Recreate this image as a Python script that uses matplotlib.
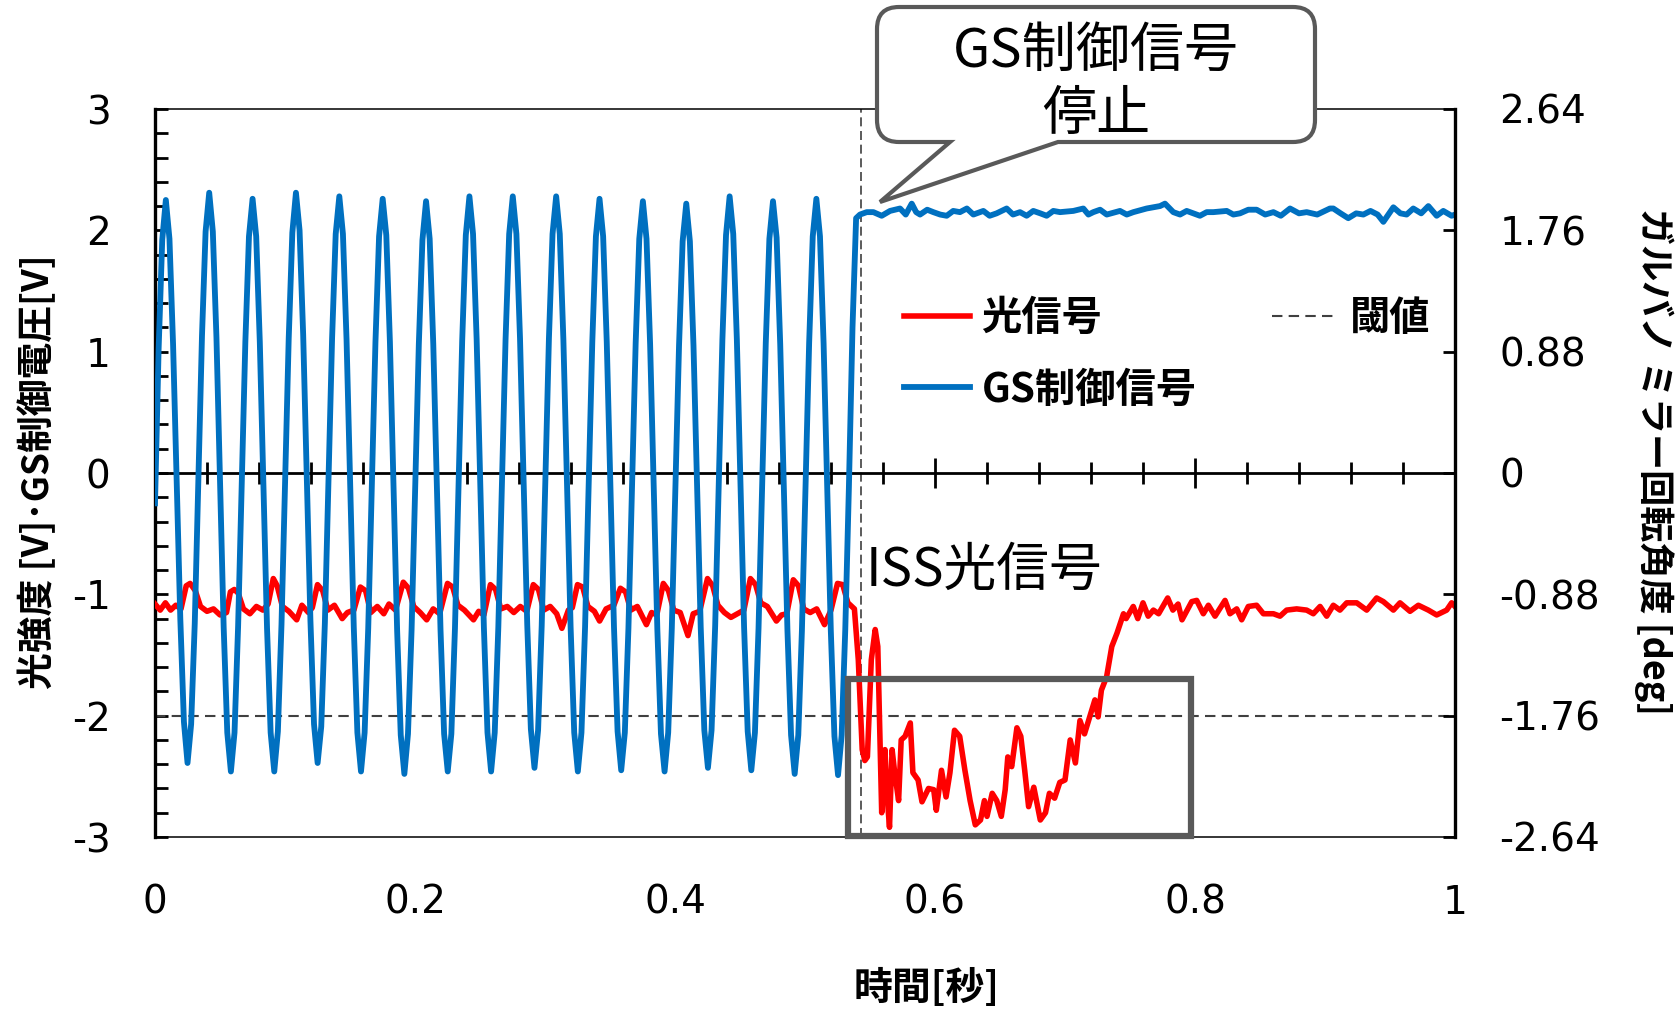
import matplotlib
matplotlib.use('Agg')
import matplotlib.pyplot as plt
import numpy as np
from matplotlib.path import Path
from matplotlib.patches import PathPatch, Rectangle
from matplotlib.ticker import MultipleLocator, FuncFormatter
from matplotlib.transforms import Affine2D

W, H = 1681, 1013

# GS control signal while driven: one sample every blue_dt seconds (12 per cycle)
blue_dt = 0.00278
blue_osc = [
    -0.25, 1.02, 1.92, 2.25, 1.93, 1.06, -0.07, -1.20, -2.05, -2.39, -2.07, -1.24,
    -0.05, 1.13, 1.99, 2.31, 1.99, 1.12, -0.08, -1.27, -2.14, -2.46, -2.14, -1.26,
    -0.10, 1.08, 1.95, 2.26, 1.95, 1.08, -0.10, -1.28, -2.14, -2.46, -2.13, -1.25,
    -0.08, 1.11, 1.98, 2.31, 2.00, 1.14, -0.04, -1.21, -2.07, -2.39, -2.09, -1.24,
    -0.06, 1.11, 1.97, 2.28, 1.97, 1.10, -0.09, -1.27, -2.14, -2.46, -2.14, -1.28,
    -0.10, 1.08, 1.95, 2.26, 1.96, 1.08, -0.11, -1.30, -2.16, -2.48, -2.15, -1.29,
    -0.12, 1.06, 1.92, 2.24, 1.93, 1.06, -0.11, -1.29, -2.15, -2.46, -2.15, -1.28,
    -0.11, 1.09, 1.96, 2.28, 1.97, 1.10, -0.09, -1.27, -2.14, -2.46, -2.14, -1.27,
    -0.09, 1.10, 1.97, 2.28, 1.97, 1.11, -0.07, -1.25, -2.11, -2.43, -2.12, -1.26,
    -0.07, 1.11, 1.97, 2.28, 1.97, 1.10, -0.09, -1.27, -2.14, -2.46, -2.14, -1.27,
    -0.10, 1.08, 1.95, 2.26, 1.95, 1.08, -0.09, -1.27, -2.13, -2.45, -2.14, -1.28,
    -0.10, 1.07, 1.93, 2.24, 1.93, 1.06, -0.11, -1.29, -2.15, -2.46, -2.14, -1.28,
    -0.12, 1.05, 1.91, 2.22, 1.91, 1.05, -0.10, -1.27, -2.12, -2.43, -2.12, -1.26,
    -0.08, 1.10, 1.96, 2.28, 1.97, 1.10, -0.08, -1.27, -2.13, -2.45, -2.14, -1.28,
    -0.10, 1.07, 1.93, 2.24, 1.94, 1.06, -0.12, -1.30, -2.16, -2.48, -2.16, -1.30,
    -0.11, 1.07, 1.95, 2.26, 1.95, 1.07, -0.11, -1.30, -2.17, -2.49, -2.16, -1.29,
    -0.12, 1.20, 2.10,
]

# GS control signal after it is stopped (held level)
blue_hold_t = [
    0.5423, 0.5475, 0.5526, 0.559, 0.5654, 0.5731, 0.5775, 0.5821, 0.5855, 0.5885,
    0.594, 0.5987, 0.604, 0.609, 0.614, 0.6192, 0.6245, 0.6295, 0.6372, 0.642,
    0.6474, 0.6551, 0.660, 0.6654, 0.6705, 0.6756, 0.681, 0.6859, 0.691, 0.6962,
    0.7064, 0.7141, 0.718, 0.7218, 0.727, 0.7321, 0.7423, 0.7475, 0.7526, 0.7628,
    0.7731, 0.7769, 0.7833, 0.7885, 0.7936, 0.8038, 0.809, 0.8141, 0.8244, 0.8295,
    0.8346, 0.841, 0.8474, 0.854, 0.8603, 0.866, 0.8731, 0.880, 0.8859, 0.894,
    0.9038, 0.9064, 0.912, 0.9179, 0.924, 0.9295, 0.935, 0.9405, 0.9449, 0.9526,
    0.958, 0.9628, 0.9679, 0.974, 0.9795, 0.9859, 0.991, 0.9974, 1.0,
]
blue_hold_v = [
    2.13, 2.15, 2.15, 2.12, 2.16, 2.18, 2.13, 2.22, 2.15, 2.13,
    2.17, 2.15, 2.13, 2.12, 2.16, 2.15, 2.18, 2.13, 2.16, 2.12,
    2.14, 2.18, 2.13, 2.15, 2.12, 2.16, 2.14, 2.12, 2.16, 2.15,
    2.16, 2.18, 2.13, 2.15, 2.17, 2.13, 2.16, 2.13, 2.15, 2.18,
    2.20, 2.22, 2.15, 2.13, 2.16, 2.12, 2.15, 2.15, 2.16, 2.13,
    2.14, 2.17, 2.17, 2.13, 2.15, 2.12, 2.18, 2.14, 2.15, 2.13,
    2.18, 2.18, 2.14, 2.10, 2.14, 2.13, 2.16, 2.13, 2.07, 2.19,
    2.14, 2.13, 2.18, 2.14, 2.20, 2.12, 2.16, 2.12, 2.13,
]

# ISS optical signal
red_t = [
    0.000, 0.004, 0.008, 0.012, 0.016, 0.020, 0.024, 0.027, 0.031, 0.035,
    0.040, 0.045, 0.050, 0.055, 0.058, 0.061, 0.064, 0.068, 0.073, 0.078,
    0.083, 0.087, 0.091, 0.094, 0.098, 0.103, 0.109, 0.113, 0.118, 0.121,
    0.125, 0.129, 0.133, 0.138, 0.144, 0.148, 0.153, 0.158, 0.162, 0.166,
    0.171, 0.176, 0.180, 0.185, 0.191, 0.195, 0.199, 0.204, 0.209, 0.214,
    0.219, 0.225, 0.229, 0.233, 0.238, 0.245, 0.249, 0.253, 0.258, 0.262,
    0.266, 0.271, 0.276, 0.281, 0.286, 0.291, 0.295, 0.299, 0.304, 0.309,
    0.313, 0.318, 0.321, 0.325, 0.329, 0.333, 0.338, 0.342, 0.347, 0.353,
    0.358, 0.362, 0.366, 0.371, 0.378, 0.382, 0.386, 0.391, 0.395, 0.399,
    0.404, 0.410, 0.414, 0.419, 0.425, 0.429, 0.433, 0.438, 0.443, 0.448,
    0.453, 0.458, 0.462, 0.466, 0.471, 0.478, 0.482, 0.486, 0.491, 0.495,
    0.499, 0.504, 0.509, 0.515, 0.520, 0.525, 0.529, 0.533, 0.538,
    0.541, 0.544, 0.546, 0.548, 0.551, 0.554, 0.556, 0.559, 0.5615, 0.563,
    0.565, 0.567, 0.569, 0.572, 0.574, 0.577, 0.581, 0.583, 0.587, 0.590,
    0.595, 0.599, 0.601, 0.605, 0.6085, 0.6115, 0.615, 0.619, 0.623, 0.627,
    0.631, 0.635, 0.638, 0.640, 0.644, 0.6475, 0.651, 0.654, 0.656, 0.659,
    0.663, 0.666, 0.669, 0.672, 0.676, 0.679, 0.681, 0.685, 0.688, 0.692,
    0.696, 0.700, 0.704, 0.708, 0.7115, 0.715, 0.719, 0.723, 0.7255, 0.728,
    0.732, 0.736, 0.740, 0.745, 0.747, 0.7525, 0.756, 0.760, 0.764, 0.768,
    0.772, 0.779, 0.783, 0.787, 0.790, 0.7975,
    0.8013, 0.8064, 0.8103, 0.8154, 0.8231, 0.8269, 0.8321, 0.8359, 0.841, 0.8474,
    0.8526, 0.8603, 0.8654, 0.8705, 0.8782, 0.8859, 0.891, 0.8962, 0.9013, 0.9064,
    0.9115, 0.9167, 0.9244, 0.9321, 0.9397, 0.9449, 0.9526, 0.9577, 0.9654, 0.9718,
    0.9795, 0.9859, 0.9936, 0.9974, 1.0,
]
red_v = [
    -1.08, -1.13, -1.07, -1.13, -1.09, -1.12, -0.93, -0.91, -0.97, -1.10,
    -1.14, -1.12, -1.17, -1.15, -0.98, -0.96, -0.99, -1.12, -1.16, -1.10,
    -1.13, -1.08, -0.87, -0.93, -1.10, -1.14, -1.21, -1.09, -1.15, -1.11,
    -0.92, -0.97, -1.13, -1.09, -1.20, -1.15, -1.13, -0.94, -0.97, -1.15,
    -1.10, -1.16, -1.08, -1.13, -0.90, -0.95, -1.10, -1.15, -1.21, -1.12,
    -1.16, -0.91, -0.94, -1.09, -1.13, -1.21, -1.14, -1.17, -0.92, -0.96,
    -1.12, -1.10, -1.15, -1.10, -1.14, -0.92, -0.96, -1.13, -1.10, -1.16,
    -1.28, -1.13, -1.11, -0.92, -0.94, -1.10, -1.14, -1.22, -1.12, -1.09,
    -0.95, -0.98, -1.13, -1.10, -1.25, -1.15, -1.17, -0.91, -0.97, -1.13,
    -1.15, -1.34, -1.16, -1.14, -0.87, -0.93, -1.09, -1.15, -1.19, -1.16,
    -1.13, -0.87, -0.92, -1.07, -1.10, -1.22, -1.17, -1.16, -0.88, -0.93,
    -1.12, -1.15, -1.12, -1.25, -1.13, -0.91, -0.92, -1.07, -1.12,
    -1.54, -2.28, -2.37, -2.34, -1.54, -1.29, -1.43, -2.80, -2.28, -2.64,
    -2.92, -2.28, -2.47, -2.70, -2.20, -2.17, -2.06, -2.47, -2.53, -2.71,
    -2.60, -2.61, -2.78, -2.45, -2.67, -2.47, -2.12, -2.17, -2.45, -2.70,
    -2.90, -2.86, -2.70, -2.83, -2.64, -2.70, -2.83, -2.61, -2.34, -2.42,
    -2.10, -2.17, -2.45, -2.75, -2.59, -2.75, -2.86, -2.80, -2.64, -2.68,
    -2.55, -2.53, -2.20, -2.39, -2.04, -2.15, -2.01, -1.87, -2.01, -1.79,
    -1.68, -1.43, -1.32, -1.16, -1.20, -1.10, -1.20, -1.07, -1.18, -1.13,
    -1.16, -1.03, -1.13, -1.08, -1.21, -1.06,
    -1.05, -1.16, -1.09, -1.18, -1.05, -1.16, -1.12, -1.21, -1.10, -1.09,
    -1.16, -1.16, -1.18, -1.13, -1.12, -1.13, -1.16, -1.10, -1.18, -1.09,
    -1.13, -1.07, -1.07, -1.13, -1.03, -1.06, -1.13, -1.07, -1.14, -1.09,
    -1.13, -1.17, -1.13, -1.07, -1.10,
]

threshold = -2.0
stop_time = 0.543
deg_per_volt = 0.88
left_ticks = [-3, -2, -1, 0, 1, 2, 3]

plt.rcParams['font.family'] = ['DejaVu Sans', 'Noto Sans CJK JP']
plt.rcParams['axes.unicode_minus'] = False
JP = ['Noto Sans CJK JP', 'DejaVu Sans']

blue_t = np.concatenate([np.arange(len(blue_osc)) * blue_dt, blue_hold_t])
blue_v = np.concatenate([blue_osc, blue_hold_v])

fig = plt.figure(figsize=(W / 100, H / 100), dpi=100)
ax = fig.add_axes([155 / W, 1 - 837 / H, 1300 / W, 728 / H])
# pixel coordinates, origin at the top-left of the figure
pix = Affine2D().scale(1 / W, -1 / H).translate(0, 1) + fig.transFigure

ax.plot(red_t, red_v, color='#FF0000', lw=4, label='光信号', zorder=3)
ax.plot(blue_t, blue_v, color='#0070C0', lw=4.2, label='GS制御信号', zorder=4)
ax.axvline(stop_time, color='#404040', lw=1.2, dashes=(5.4, 2.8), zorder=2)
ax.axhline(threshold, color='#404040', lw=1.5, dashes=(5, 3), label='閾値', zorder=2)

ax.set_xlim(0, 1)
ax.set_ylim(-3, 3)

# x axis drawn through zero, its labels kept under the plot
ax.spines['top'].set_position(('data', 0))
ax.spines['top'].set_linewidth(2)
ax.spines['bottom'].set_linewidth(1.1)
ax.spines['left'].set_linewidth(2.4)
ax.spines['right'].set_visible(False)
ax.xaxis.set_major_locator(MultipleLocator(0.2))
ax.xaxis.set_minor_locator(MultipleLocator(0.04))
ax.xaxis.set_major_formatter(FuncFormatter(lambda v, p: f'{v:g}'))
ax.tick_params(axis='x', which='both', bottom=False, top=True, labelbottom=True,
               labeltop=False, direction='inout', width=2, labelsize=28)
ax.tick_params(axis='x', which='major', length=21, pad=23)
ax.tick_params(axis='x', which='minor', length=16)

ax.set_yticks(left_ticks)
ax.set_yticklabels([str(v) for v in left_ticks])
ax.yaxis.set_minor_locator(MultipleLocator(0.2))
ax.tick_params(axis='y', which='both', direction='in', length=9, width=2,
               labelsize=28, pad=32)

ax2 = ax.twinx()
ax2.set_ylim(-3 * deg_per_volt, 3 * deg_per_volt)
right_ticks = [v * deg_per_volt for v in left_ticks]
ax2.set_yticks(right_ticks)
ax2.set_yticklabels(['0' if v == 0 else f'{v:.2f}' for v in right_ticks])
ax2.tick_params(axis='y', direction='in', length=9, width=2, labelsize=28, pad=32)
ax2.spines['right'].set_linewidth(2.4)
ax2.spines['left'].set_visible(False)
ax2.spines['bottom'].set_visible(False)
ax2.spines['top'].set_linewidth(1.1)

ax.legend(ncol=2, loc='upper left', bbox_to_anchor=(0.576, 0.740), frameon=False,
          prop={'family': JP, 'weight': 'bold', 'size': 29},
          handlelength=1.65, handletextpad=0.28, columnspacing=1.87,
          labelspacing=0.75, borderpad=0, borderaxespad=0)

# region where the optical signal falls below the threshold
ax.add_patch(Rectangle((0.533, -2.99), 0.264, 1.29, fill=False, ec='#595959',
                       lw=4.5, joinstyle='miter', zorder=6, clip_on=False))

ax.text(866, 570, 'ISS光信号', transform=pix, ha='left', va='center',
        fontsize=38, family=JP, zorder=7)

# speech-bubble callout
L, R, T, B, r = 877, 1315, 7, 142, 22
xa, xb, tip = 950, 1058, (880, 202)
verts = [(L + r, T), (R - r, T), (R, T), (R, T + r), (R, B - r), (R, B), (R - r, B),
         (xb, B), tip, (xa, B), (L + r, B), (L, B), (L, B - r), (L, T + r), (L, T),
         (L + r, T), (L + r, T)]
codes = [Path.MOVETO, Path.LINETO, Path.CURVE3, Path.CURVE3, Path.LINETO, Path.CURVE3,
         Path.CURVE3, Path.LINETO, Path.LINETO, Path.LINETO, Path.LINETO, Path.CURVE3,
         Path.CURVE3, Path.LINETO, Path.CURVE3, Path.CURVE3, Path.CLOSEPOLY]
fig.add_artist(PathPatch(Path(verts, codes), fc='white', ec='#595959', lw=3,
                         transform=pix, zorder=10, clip_on=False))
fig.text(1096, 51, 'GS制御信号', transform=pix, ha='center', va='center',
         fontsize=39, family=JP, zorder=11)
fig.text(1096, 115, '停止', transform=pix, ha='center', va='center',
         fontsize=39, family=JP, zorder=11)

fig.text(38, 472, '光強度 [V]･GS制御電圧[V]', transform=pix, rotation=90,
         ha='center', va='center', fontsize=26.5, weight='bold', family=JP)
fig.text(1654, 461, 'ガルバノ ミラー回転角度 [deg]', transform=pix, rotation=270,
         ha='center', va='center', fontsize=26, weight='bold', family=JP)
fig.text(927, 988, '時間[秒]', transform=pix, ha='center', va='center',
         fontsize=28, weight='bold', family=JP)

fig.savefig('out.png', dpi=100)
